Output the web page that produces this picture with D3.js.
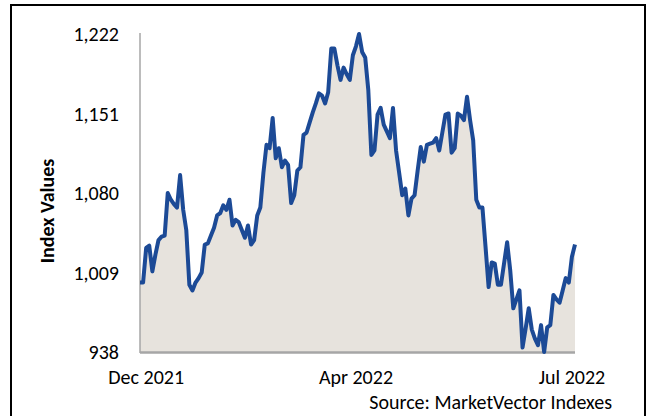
<!DOCTYPE html>
<html>
<head>
<meta charset="utf-8">
<script src="https://cdn.jsdelivr.net/npm/d3@7"></script>
<style>
  body { margin: 0; background: #fff; }
  svg text { font-family: Carlito, Calibri, Lato, sans-serif; fill: #000; }
</style>
</head>
<body>
<script>
// index level, one value per trading day
const values = [
  1000, 1000, 1031, 1033, 1010, 1025, 1038, 1041, 1042, 1080,
  1074, 1070, 1067, 1096, 1065, 1047, 998, 993, 1000, 1004,
  1009, 1034, 1035, 1042, 1049, 1060, 1062, 1069, 1065, 1074,
  1051, 1056, 1054, 1047, 1040, 1051, 1034, 1038, 1060, 1067,
  1098, 1123, 1120, 1147, 1111, 1120, 1103, 1109, 1105, 1071,
  1078, 1100, 1103, 1132, 1134, 1143, 1152, 1160, 1169, 1167,
  1160, 1170, 1209, 1209, 1194, 1181, 1192, 1186, 1181, 1203,
  1211, 1222, 1206, 1201, 1172, 1114, 1118, 1150, 1156, 1141,
  1135, 1129, 1156, 1118, 1098, 1078, 1084, 1060, 1075, 1078,
  1100, 1121, 1108, 1123, 1124, 1125, 1129, 1118, 1134, 1150,
  1151, 1116, 1120, 1151, 1149, 1145, 1166, 1145, 1127, 1074,
  1067, 1067, 1032, 996, 1018, 1017, 998, 998, 1017, 1036,
  1011, 977, 985, 993, 942, 959, 977, 958, 950, 944,
  962, 938, 960, 962, 989, 985, 982, 993, 1004, 1000,
  1023, 1034
]
const yTicks = [938, 1009, 1080, 1151, 1222]
const xLabels = ['Dec 2021', 'Apr 2022', 'Jul 2022']
const xLabelAt = [2, 70, 140]

const W = 653, H = 416
const plot = { left: 140, right: 575, top: 34, bottom: 352 }

const svg = d3.select('body').append('svg')
  .attr('width', W)
  .attr('height', H)

// outer frame
svg.append('rect')
  .attr('x', 11).attr('y', 5)
  .attr('width', 634).attr('height', 420)
  .attr('fill', 'none')
  .attr('stroke', '#000')
  .attr('stroke-width', 2)

const x = d3.scaleLinear().domain([0, values.length - 1]).range([plot.left, plot.right])
const y = d3.scaleLinear().domain([938, 1222]).range([plot.bottom, plot.top])

const area = d3.area()
  .x((d, i) => x(i))
  .y0(y(938))
  .y1(d => y(d))

const line = d3.line()
  .x((d, i) => x(i))
  .y(d => y(d))

svg.append('path')
  .datum(values)
  .attr('d', area)
  .attr('fill', '#e7e3dd')

// axes lines
svg.append('line')
  .attr('x1', plot.left).attr('x2', plot.left)
  .attr('y1', plot.top - 1).attr('y2', plot.bottom + 1)
  .attr('stroke', '#a6a6a6').attr('stroke-width', 1.5)

svg.append('line')
  .attr('x1', plot.left).attr('x2', plot.right)
  .attr('y1', plot.bottom + 0.5).attr('y2', plot.bottom + 0.5)
  .attr('stroke', '#a6a6a6').attr('stroke-width', 2.5)

svg.append('path')
  .datum(values)
  .attr('d', line)
  .attr('fill', 'none')
  .attr('stroke', '#1c4a96')
  .attr('stroke-width', 4)
  .attr('stroke-linejoin', 'round')

// y tick labels
svg.selectAll('.ytick')
  .data(yTicks)
  .enter().append('text')
    .attr('class', 'ytick')
    .attr('x', 119)
    .attr('y', d => y(d))
    .attr('dy', '0.35em')
    .attr('text-anchor', 'end')
    .attr('font-size', 20)
    .text(d3.format(','))

// x labels
svg.selectAll('.xtick')
  .data(xLabels)
  .enter().append('text')
    .attr('class', 'xtick')
    .attr('x', (d, i) => x(xLabelAt[i]))
    .attr('y', 377)
    .attr('dy', '0.35em')
    .attr('text-anchor', 'middle')
    .attr('font-size', 20)
    .text(d => d)

svg.append('text')
  .attr('transform', 'translate(47,211) rotate(-90)')
  .attr('text-anchor', 'middle')
  .attr('dy', '0.35em')
  .attr('font-size', 20)
  .attr('font-weight', 'bold')
  .text('Index Values')

svg.append('text')
  .attr('x', 612)
  .attr('y', 402)
  .attr('dy', '0.35em')
  .attr('text-anchor', 'end')
  .attr('font-size', 20)
  .text('Source: MarketVector Indexes')
</script>
</body>
</html>
